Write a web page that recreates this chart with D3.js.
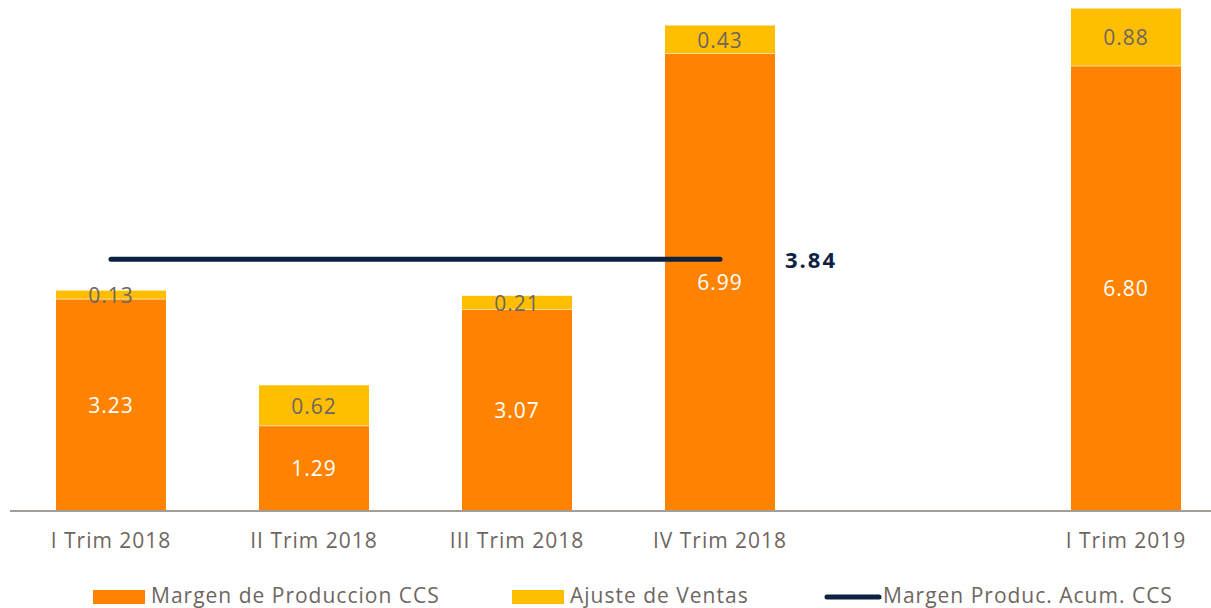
<!DOCTYPE html>
<html><head><meta charset="utf-8">
<script src="https://cdn.jsdelivr.net/npm/d3@7"></script>
<style>body{margin:0;background:#fff;}svg{display:block;font-family:"Open Sans", sans-serif;}</style>
</head><body>
<svg id="c" width="1211" height="608"></svg>
<script>
const categories = ["I Trim 2018","II Trim 2018","III Trim 2018","IV Trim 2018","","I Trim 2019"];
const margen = [3.23, 1.29, 3.07, 6.99, null, 6.80];
const ajuste = [0.13, 0.62, 0.21, 0.43, null, 0.88];
const acumValue = 3.84;
const acumSpan = ["I Trim 2018","IV Trim 2018"];
const legendLabels = ["Margen de Produccion CCS","Ajuste de Ventas","Margen Produc. Acum. CCS"];

const W = 1211, H = 608;
const svg = d3.select("#c");
const x = d3.scaleBand().domain(categories.map((d,i)=>i)).range([9.5, 1227.5]).paddingInner(0.458).paddingOuter(0.229);
const y = d3.scaleLinear().domain([0, 7.8]).range([510, 510 - 7.8*65.3]);

const cOr = "#ff8300", cYe = "#ffbf00", cTxt = "#6e665f", cNavy = "#0d2240";
const fs = 21, ls = 1;

const data = categories.map((c,i)=>({i, c, m: margen[i], a: ajuste[i]})).filter(d=>d.m!=null);

const g = svg.append("g");
g.selectAll(".m").data(data).join("rect")
  .attr("x", d=>x(d.i)).attr("width", x.bandwidth())
  .attr("y", d=>y(d.m)).attr("height", d=>y(0)-y(d.m))
  .attr("fill", cOr);
g.selectAll(".a").data(data).join("rect")
  .attr("x", d=>x(d.i)).attr("width", x.bandwidth())
  .attr("y", d=>y(d.m+d.a)).attr("height", d=>y(d.m)-y(d.m+d.a))
  .attr("fill", cYe);
g.selectAll(".sep").data(data).join("line")
  .attr("x1", d=>x(d.i)).attr("x2", d=>x(d.i)+x.bandwidth())
  .attr("y1", d=>y(d.m)).attr("y2", d=>y(d.m))
  .attr("stroke", "#ffd9a8").attr("stroke-width", 1);

const axis = d3.axisBottom(x).tickFormat(i=>categories[i]).tickSize(0).tickPadding(23);
const ax = svg.append("g").attr("transform", `translate(0,${y(0)})`).call(axis);
ax.select(".domain").remove();
ax.selectAll("text").attr("font-size", fs).attr("fill", cTxt).attr("font-family", "'Open Sans', sans-serif").attr("letter-spacing", ls);
svg.append("line").attr("x1", 10).attr("x2", W).attr("y1", y(0)+1).attr("y2", y(0)+1)
  .attr("stroke", "#a39d97").attr("stroke-width", 2);

g.selectAll(".ml").data(data).join("text")
  .attr("x", d=>x(d.i)+x.bandwidth()/2).attr("y", d=>(y(d.m)+y(0))/2)
  .attr("text-anchor","middle").attr("dominant-baseline","central")
  .attr("font-size", fs).attr("letter-spacing", ls).attr("fill", "#fff").text(d=>d.m.toFixed(2));
g.selectAll(".al").data(data).join("text")
  .attr("x", d=>x(d.i)+x.bandwidth()/2).attr("y", d=>(y(d.m)+y(d.m+d.a))/2)
  .attr("text-anchor","middle").attr("dominant-baseline","central")
  .attr("font-size", fs).attr("letter-spacing", ls).attr("fill", cTxt).text(d=>d.a.toFixed(2));

const i0 = categories.indexOf(acumSpan[0]), i1 = categories.indexOf(acumSpan[1]);
svg.append("line")
  .attr("x1", x(i0)+x.bandwidth()/2).attr("x2", x(i1)+x.bandwidth()/2)
  .attr("y1", y(acumValue)).attr("y2", y(acumValue))
  .attr("stroke", cNavy).attr("stroke-width", 5).attr("stroke-linecap","round");
svg.append("text").attr("x", x(i1)+x.bandwidth()+10).attr("y", y(acumValue))
  .attr("dominant-baseline","central").attr("font-size", 22).attr("font-weight","bold").attr("letter-spacing", 2)
  .attr("fill", cNavy).text(acumValue.toFixed(2));

const lg = svg.append("g").attr("font-size", fs).attr("letter-spacing", ls).attr("fill", cTxt);
lg.append("rect").attr("x",93).attr("y",590).attr("width",52).attr("height",14).attr("fill",cOr);
lg.append("text").attr("x",151).attr("y",595).attr("dominant-baseline","central").text(legendLabels[0]);
lg.append("rect").attr("x",512).attr("y",590).attr("width",52).attr("height",14).attr("fill",cYe);
lg.append("text").attr("x",570).attr("y",595).attr("dominant-baseline","central").text(legendLabels[1]);
lg.append("line").attr("x1",827).attr("x2",879).attr("y1",597).attr("y2",597).attr("stroke",cNavy).attr("stroke-width",5).attr("stroke-linecap","round");
lg.append("text").attr("x",883).attr("y",595).attr("dominant-baseline","central").text(legendLabels[2]);
</script>
</body></html>
